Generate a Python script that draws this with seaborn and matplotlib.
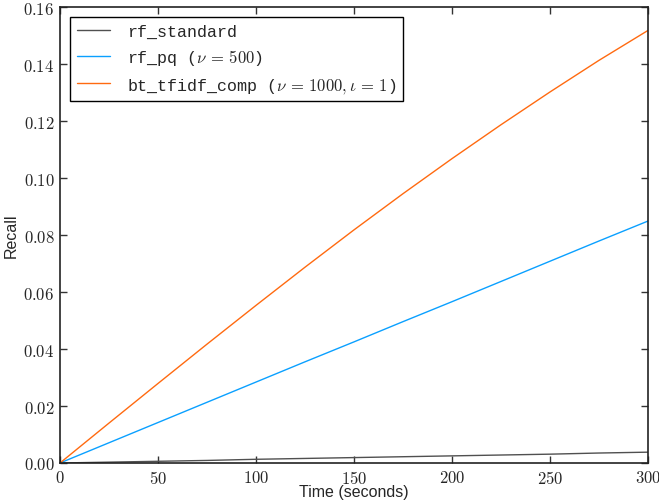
import numpy as np
import pandas as pd
import seaborn as sns
import matplotlib
matplotlib.use("Agg")
import matplotlib.pyplot as plt
from matplotlib.ticker import FuncFormatter

# values
time_s = [0, 25, 50, 75, 100, 125, 150, 175, 200, 225, 250, 275, 300]
recall_standard = [0, 0.0003, 0.0006, 0.0009, 0.0013, 0.0016, 0.0019,
                   0.0022, 0.0025, 0.0028, 0.0031, 0.0035, 0.0038]
recall_pq = [0, 0.0071, 0.0142, 0.0213, 0.0284, 0.0355, 0.0425,
             0.0496, 0.0566, 0.0637, 0.0708, 0.0779, 0.0849]
recall_tfidf = [0, 0.0140, 0.0279, 0.0417, 0.0553, 0.0687, 0.0818,
                0.0945, 0.1068, 0.1187, 0.1302, 0.1413, 0.1518]

labels = ["rf_standard", r"rf_pq ($\nu\,=\,500$)",
          r"bt_tfidf_comp ($\nu\,=\,1000, \iota\,=\,1$)"]
colors = ["#505050", "#0aa0ff", "#ff6a10"]

df = pd.concat([
    pd.DataFrame({"time": time_s, "recall": vals, "method": lab})
    for vals, lab in zip([recall_standard, recall_pq, recall_tfidf], labels)
])

sns.set_style("ticks")
plt.rcParams["mathtext.fontset"] = "cm"
plt.rcParams["font.family"] = ["Liberation Sans", "DejaVu Sans"]

fig = plt.figure(figsize=(6.59, 5.02), dpi=100)
ax = fig.add_axes([0.091, 0.0757, 0.892, 0.908])

sns.lineplot(data=df, x="time", y="recall", hue="method", hue_order=labels,
             palette=colors, linewidth=1.0, ax=ax)

ax.set_xlim(0, 300)
ax.set_ylim(0, 0.16)
ax.set_xticks(range(0, 301, 50))
ax.set_yticks(np.arange(0, 0.161, 0.02))
ax.xaxis.set_major_formatter(FuncFormatter(lambda v, p: r"$%d$" % v))
ax.yaxis.set_major_formatter(FuncFormatter(lambda v, p: r"$%.2f$" % v))
ax.tick_params(direction="in", top=True, right=True, length=5, width=1,
               labelsize=12, color="#333333", pad=4)
for sp in ax.spines.values():
    sp.set_linewidth(1.2)
    sp.set_color("#222222")

ax.set_xlabel("Time (seconds)", fontsize=11.5, labelpad=-1)
ax.set_ylabel("Recall", fontsize=11.5, labelpad=3)

leg = ax.legend(loc="upper left", fancybox=False, frameon=True,
                borderaxespad=0.6, handlelength=2.0, handletextpad=1.0,
                prop={"family": "Liberation Mono", "size": 12})
leg.get_frame().set_edgecolor("black")
leg.get_frame().set_linewidth(1.0)
leg.get_frame().set_alpha(1)

fig.savefig("out.png", dpi=100)
